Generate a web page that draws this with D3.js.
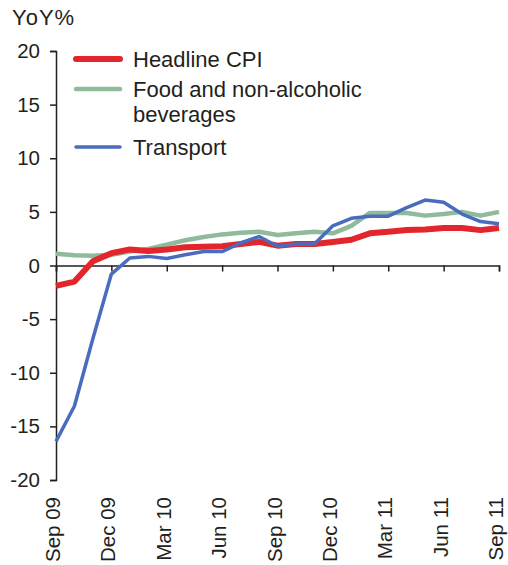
<!DOCTYPE html>
<html>
<head>
<meta charset="utf-8">
<script src="https://cdn.jsdelivr.net/npm/d3@7"></script>
<style>
  body { margin: 0; background: #fff; }
  text { font-family: "Liberation Sans", Arial, sans-serif; fill: #231f20; }
</style>
</head>
<body>
<svg id="chart" width="508" height="565"></svg>
<script>
// months, Sep 09 .. Sep 11
const months = ["Sep 09","Oct 09","Nov 09","Dec 09","Jan 10","Feb 10","Mar 10","Apr 10","May 10",
  "Jun 10","Jul 10","Aug 10","Sep 10","Oct 10","Nov 10","Dec 10","Jan 11","Feb 11","Mar 11",
  "Apr 11","May 11","Jun 11","Jul 11","Aug 11","Sep 11"];
const tickLabels = ["Sep 09","Dec 09","Mar 10","Jun 10","Sep 10","Dec 10","Mar 11","Jun 11","Sep 11"];
const yTicks = [-20, -15, -10, -5, 0, 5, 10, 15, 20];

const headline = [-1.9, -1.5, 0.4, 1.15, 1.5, 1.35, 1.5, 1.7, 1.75, 1.8, 2.0, 2.2, 1.85,
  2.0, 2.0, 2.2, 2.4, 3.0, 3.15, 3.3, 3.35, 3.5, 3.5, 3.3, 3.5];
const food = [1.1, 0.95, 0.9, 1.0, 1.3, 1.55, 1.95, 2.35, 2.65, 2.9, 3.05, 3.15, 2.85,
  3.0, 3.15, 3.0, 3.7, 4.9, 4.9, 4.9, 4.65, 4.8, 5.0, 4.65, 5.0];
const transport = [-16.4, -13.1, -6.8, -0.8, 0.7, 0.85, 0.65, 1.0, 1.3, 1.3, 2.1, 2.7, 1.8,
  2.0, 2.0, 3.7, 4.4, 4.6, 4.6, 5.4, 6.1, 5.9, 4.8, 4.1, 3.9];

const series = [
  {name: ["Headline CPI"], values: headline, color: "#e3262b", width: 6},
  {name: ["Food and non-alcoholic", "beverages"], values: food, color: "#8fba9c", width: 4.5},
  {name: ["Transport"], values: transport, color: "#4a6cbe", width: 3.5}
];

let svg = d3.select("#chart");

let x = d3.scalePoint().domain(months).range([56, 499]);
let y = d3.scaleLinear().domain([-20, 20]).range([480, 51]);

// y axis, plain hyphen for negatives
let yAxis = svg.append("g")
    .attr("transform", "translate(56,0)")
    .call(d3.axisLeft(y).tickValues(yTicks).tickSize(6).tickPadding(10).tickFormat(d => String(d)));
yAxis.selectAll("text").attr("font-size", "20.5px");

// x axis at zero, labels go down at the bottom
let xAxis = svg.append("g")
    .attr("transform", "translate(0," + y(0) + ")")
    .call(d3.axisBottom(x).tickValues(tickLabels).tickSize(6).tickFormat(""));

svg.selectAll("g path.domain, g .tick line")
    .attr("stroke", "#231f20")
    .attr("stroke-width", 1.5);

svg.append("g").selectAll("text")
    .data(tickLabels)
    .enter()
    .append("text")
    .attr("transform", d => "translate(" + x(d) + ",497) rotate(-90)")
    .attr("text-anchor", "end")
    .attr("dy", "0.2em")
    .attr("font-size", "20.5px")
    .text(d => d);

svg.append("text")
    .attr("x", 12)
    .attr("y", 25)
    .attr("font-size", "22px")
    .attr("letter-spacing", "1px")
    .text("YoY%");

// lines: green first, then red, blue on top
let line = d3.line()
    .x((d, i) => x(months[i]))
    .y(d => y(d));

[series[1], series[0], series[2]].forEach(s => {
  svg.append("path")
      .datum(s.values)
      .attr("fill", "none")
      .attr("stroke", s.color)
      .attr("stroke-width", s.width)
      .attr("stroke-linejoin", "round")
      .attr("d", line);
});

// legend
const legendY = [67, 97, 155];
let legend = svg.append("g").selectAll("g")
    .data(series)
    .enter()
    .append("g")
    .attr("transform", (d, i) => "translate(0," + legendY[i] + ")");

legend.append("line")
    .attr("x1", 76).attr("x2", 120)
    .attr("y1", -8).attr("y2", -8)
    .attr("stroke", d => d.color)
    .attr("stroke-width", d => d.width)
    .attr("stroke-linecap", "round");

legend.append("text")
    .attr("x", 133)
    .attr("font-size", "22px")
    .selectAll("tspan")
    .data(d => d.name)
    .enter()
    .append("tspan")
    .attr("x", 133)
    .attr("dy", (d, i) => i ? 25 : 0)
    .text(d => d);
</script>
</body>
</html>
